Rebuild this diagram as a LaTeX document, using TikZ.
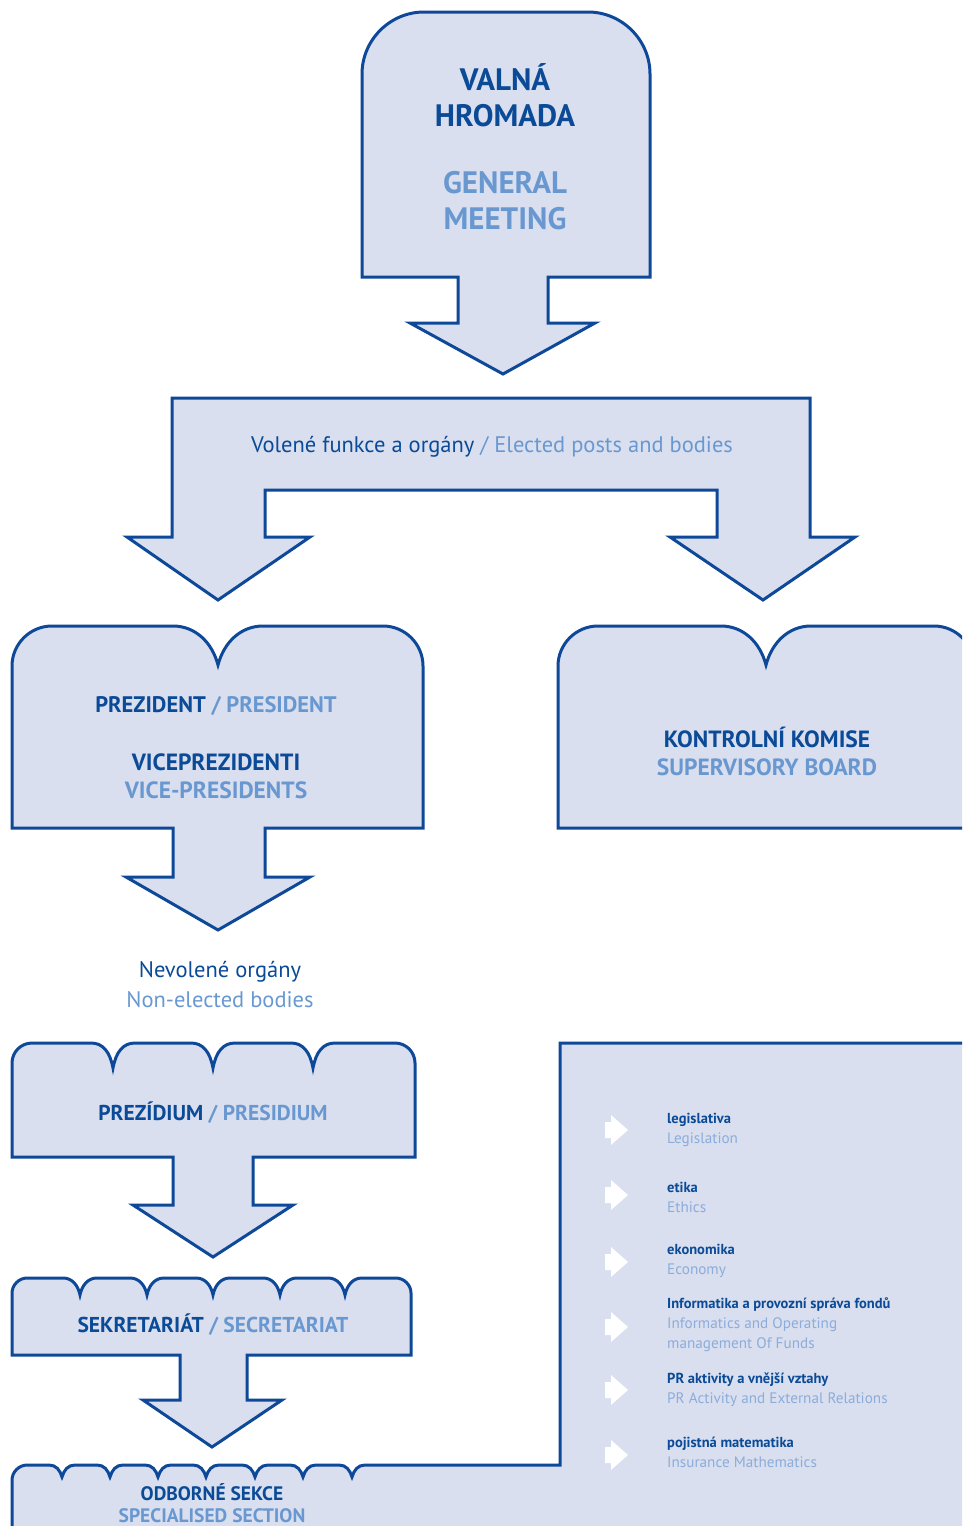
\documentclass[tikz,border=0pt]{standalone}
\usepackage{fontspec}
\setmainfont{PT Sans}
\definecolor{boxfill}{RGB}{217,223,239}
\definecolor{boxline}{RGB}{14,72,152}
\definecolor{darktext}{RGB}{10,74,150}
\definecolor{lighttext}{RGB}{105,152,208}
\definecolor{panellight}{RGB}{140,172,218}
\begin{document}
\begin{tikzpicture}[
x=1pt,y=-1pt,
block/.style={fill=boxfill,draw=boxline,line width=3pt},
every node/.style={inner sep=0pt,align=center},
bigcaps/.style={font=\bfseries\fontsize{31}{36}\selectfont},
caps/.style={font=\bfseries\fontsize{22.5}{28}\selectfont},
smallcaps/.style={font=\bfseries\fontsize{19.5}{22}\selectfont},
plain/.style={font=\fontsize{22.5}{30}\selectfont},
item/.style={font=\fontsize{15.2}{20}\selectfont,align=left,anchor=west}
]
\useasboundingbox (0,0) rectangle (962,1526);
\clip (0,0) rectangle (962,1526);

% general meeting
\filldraw[block] (458,277) -- (362,277) -- (362,74) .. controls (362,40) and (390,12) .. (424,12)
  -- (588,12) .. controls (622,12) and (650,40) .. (650,74) -- (650,277) -- (548,277)
  -- (548,323) -- (595,323) -- (503,374) -- (410,323) -- (458,323) -- cycle;
\node[bigcaps,text=darktext] (valna) at (505,95) {VALNÁ\\HROMADA};
\node[bigcaps,text=lighttext] (general) at (505,201) {GENERAL\\MEETING};

% elected posts
\filldraw[block] (172,537) -- (172,398) -- (810,398) -- (810,537) -- (855,537) -- (763,600)
  -- (670,537) -- (717,537) -- (717,490) -- (265,490) -- (265,537) -- (310,537)
  -- (218,600) -- (127,537) -- cycle;
\node[plain] (elected) at (492,447) {\textcolor{darktext}{Volené funkce a orgány} \textcolor{lighttext}{/ Elected posts and bodies}};

% president
\filldraw[block] (12,828) -- (12,666) .. controls (12,644) and (30,626) .. (52,626) -- (173,626)
  .. controls (195,626) and (212,642) .. (218,665) .. controls (224,642) and (241,626) .. (263,626)
  -- (383,626) .. controls (405,626) and (423,644) .. (423,666) -- (423,828) -- (265,828)
  -- (265,877) -- (310,877) -- (218,930) -- (126,877) -- (173,877) -- (173,828) -- cycle;
\node[caps] (prezident) at (216,706) {\textcolor{darktext}{PREZIDENT} \textcolor{lighttext}{/ PRESIDENT}};
\node[caps,font=\bfseries\fontsize{23.5}{28}\selectfont] (vice) at (216,776) {\textcolor{darktext}{VICEPREZIDENTI}\\\textcolor{lighttext}{VICE-PRESIDENTS}};

% supervisory board
\filldraw[block] (558,828) -- (558,666) .. controls (558,644) and (576,626) .. (598,626) -- (721,626)
  .. controls (743,626) and (760,642) .. (766,665) .. controls (772,642) and (789,626) .. (811,626)
  -- (934,626) .. controls (956,626) and (974,644) .. (974,666) -- (974,828) -- cycle;
\node[caps,font=\bfseries\fontsize{23.5}{28}\selectfont] (kontrol) at (767,751) {\textcolor{darktext}{KONTROLNÍ KOMISE}\\\textcolor{lighttext}{SUPERVISORY BOARD}};

\node[font=\fontsize{22.5}{30}\selectfont] (nevolene) at (220,985) {\textcolor{darktext}{Nevolené orgány}\\\textcolor{lighttext}{Non-elected bodies}};

% presidium
\filldraw[block] (12,1157) -- (12,1063) .. controls (12,1052) and (21,1043) .. (32,1043)
  \foreach \n in {113,213,313} { -- (\n-22,1043) .. controls (\n-10,1043) and (\n-3,1052) .. (\n,1068)
  .. controls (\n+3,1052) and (\n+10,1043) .. (\n+22,1043) }
  -- (395,1043) .. controls (406,1043) and (415,1052) .. (415,1063) -- (415,1157) -- (253,1157)
  -- (253,1205) -- (293,1205) -- (213,1257) -- (133,1205) -- (173,1205) -- (173,1157) -- cycle;
\node[caps,font=\bfseries\fontsize{21.5}{28}\selectfont] (prezidium) at (213,1113) {\textcolor{darktext}{PREZÍDIUM} \textcolor{lighttext}{/ PRESIDIUM}};

% secretariat
\filldraw[block] (12,1355) -- (12,1293) .. controls (12,1285) and (19,1278) .. (27,1278)
  \foreach \n in {80,147,213,280,345} { -- (\n-17,1278) .. controls (\n-8,1278) and (\n-2,1285) .. (\n,1295)
  .. controls (\n+2,1285) and (\n+8,1278) .. (\n+17,1278) }
  -- (396,1278) .. controls (404,1278) and (411,1285) .. (411,1293) -- (411,1355) -- (247,1355)
  -- (247,1400) -- (282,1400) -- (212,1447) -- (143,1400) -- (180,1400) -- (180,1355) -- cycle;
\node[caps,font=\bfseries\fontsize{21.5}{28}\selectfont] (sekret) at (213,1325) {\textcolor{darktext}{SEKRETARIÁT} \textcolor{lighttext}{/ SECRETARIAT}};

% specialised sections and panel
\filldraw[block] (12,1540) -- (12,1480) .. controls (12,1472) and (19,1465) .. (27,1465)
  \foreach \n in {62,110,158,206,255,303,352} { -- (\n-13,1465) .. controls (\n-6,1465) and (\n-2,1470) .. (\n,1477)
  .. controls (\n+2,1470) and (\n+6,1465) .. (\n+13,1465) }
  -- (560,1465) -- (560,1043) -- (980,1043) -- (980,1540) -- cycle;
\node[smallcaps] (odborne) at (212,1503) {\textcolor{darktext}{ODBORNÉ SEKCE}\\\textcolor{lighttext}{SPECIALISED SECTION}};

\foreach \y in {1130,1195,1262,1327,1390,1455}
  \fill[white] (605,\y-8) -- (611,\y-8) -- (611,\y-15) -- (628,\y) -- (611,\y+15) -- (611,\y+8) -- (605,\y+8) -- cycle;

\node[item] (legis) at (667,1130) {\textcolor{darktext}{\bfseries\fontsize{14.5}{20}\selectfont legislativa}\\\textcolor{panellight}{Legislation}};
\node[item] (etika) at (667,1197) {\textcolor{darktext}{\bfseries\fontsize{14.5}{20}\selectfont etika}\\\textcolor{panellight}{Ethics}};
\node[item] (ekonom) at (667,1261) {\textcolor{darktext}{\bfseries\fontsize{14.5}{20}\selectfont ekonomika}\\\textcolor{panellight}{Economy}};
\node[item] (inform) at (667,1325) {\textcolor{darktext}{\bfseries\fontsize{14.5}{20}\selectfont Informatika a provozní správa fondů}\\\textcolor{panellight}{Informatics and Operating}\\\textcolor{panellight}{management Of Funds}};
\node[item] (pr) at (667,1390) {\textcolor{darktext}{\bfseries\fontsize{14.5}{20}\selectfont PR aktivity a vnější vztahy}\\\textcolor{panellight}{PR Activity and External Relations}};
\node[item] (pojist) at (667,1452) {\textcolor{darktext}{\bfseries\fontsize{14.5}{20}\selectfont pojistná matematika}\\\textcolor{panellight}{Insurance Mathematics}};
\end{tikzpicture}
\end{document}
